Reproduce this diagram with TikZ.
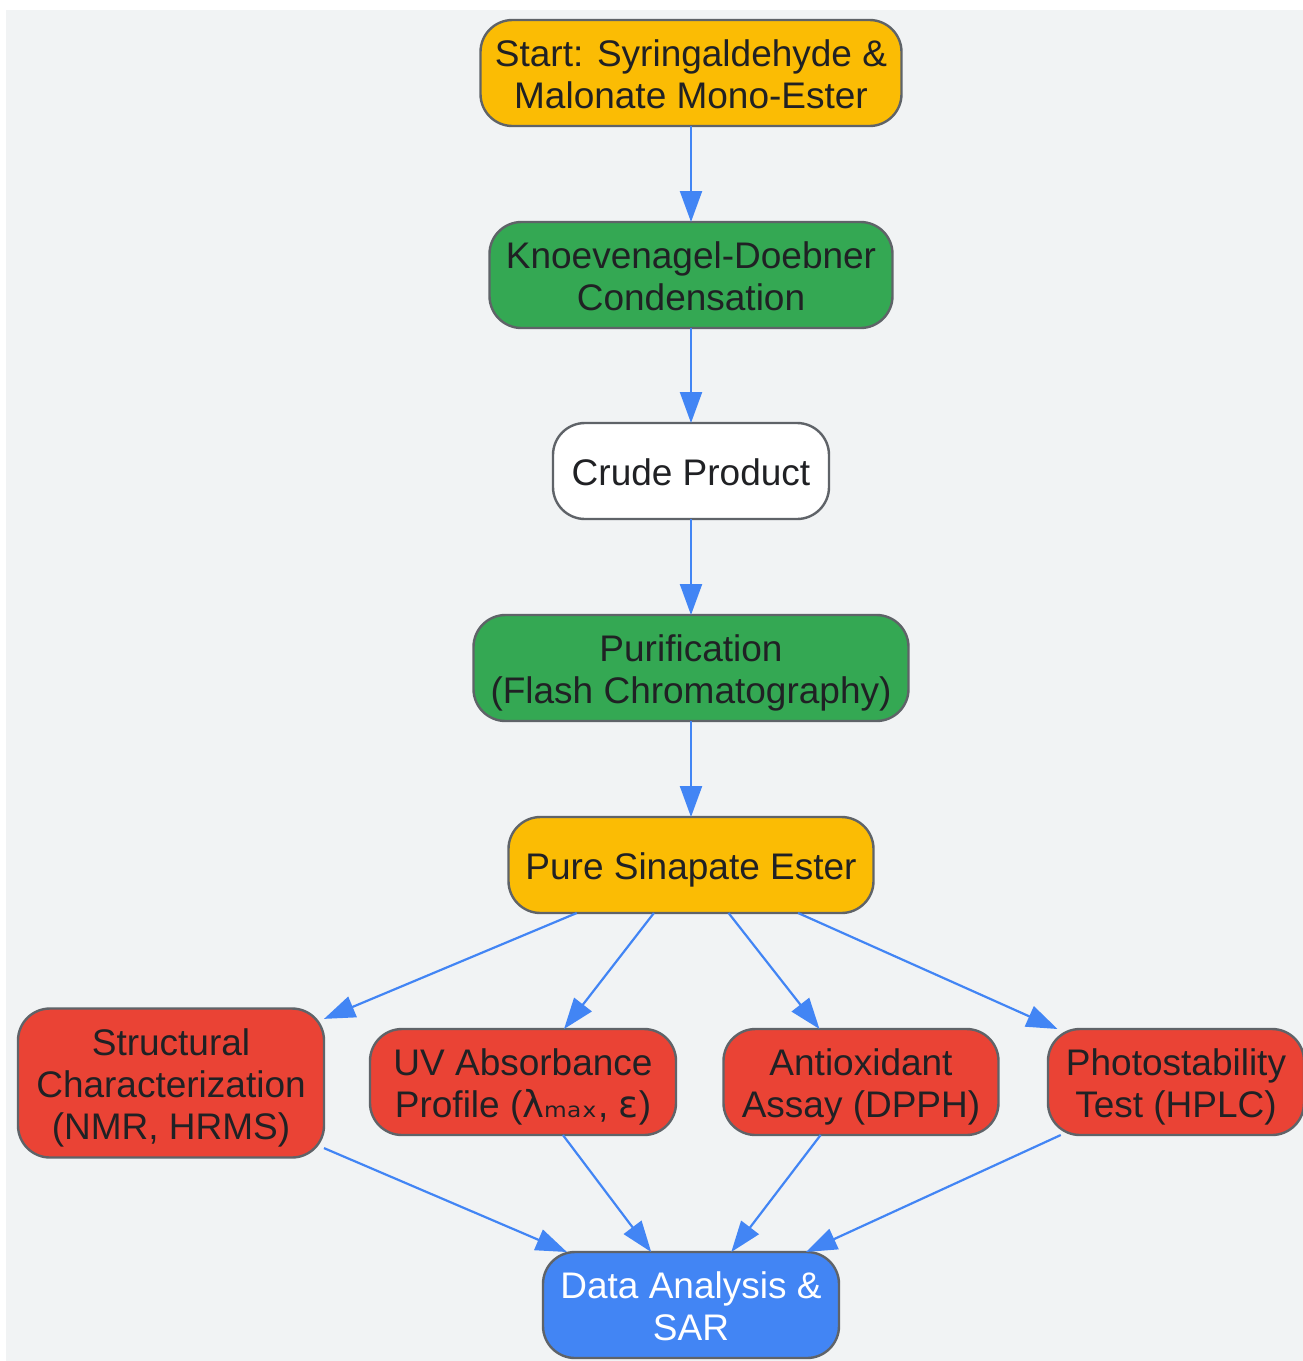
\documentclass[tikz,border=0pt]{standalone}
\usepackage{fontspec}
\setmainfont{Liberation Sans}
\newfontfamily\dejavu{DejaVu Sans}
\usetikzlibrary{arrows.meta}
\definecolor{bgc}{HTML}{F1F3F4}
\definecolor{yel}{HTML}{FBBC04}
\definecolor{grn}{HTML}{34A853}
\definecolor{redc}{HTML}{EA4335}
\definecolor{blu}{HTML}{4285F4}
\definecolor{bord}{HTML}{5F6368}
\definecolor{txt}{HTML}{202124}
\newcommand{\txtlines}[1]{\raisebox{-6pt}[\height][\depth]{\begin{tabular}{@{}c@{}}#1\end{tabular}}}
\tikzset{
  box/.style={draw=bord, line width=2.4pt, rounded corners=32pt, inner sep=0pt, outer sep=0pt,
    align=center, text=txt, font=\fontsize{37}{42}\selectfont},
  conn/.style={draw=blu, line width=2.2pt, -{Triangle[length=31pt,width=22pt]}}
}
\begin{document}
\begin{tikzpicture}[x=1pt,y=-1pt]
\useasboundingbox (0,0) rectangle (1303,1361);
\fill[bgc] (6,10) rectangle (1303,1361);
\node[box, fill=yel, minimum width=421pt, minimum height=106pt] (start) at (691,73) {\txtlines{Start: Syringaldehyde \&\\Malonate Mono-Ester}};
\node[box, fill=grn, minimum width=403pt, minimum height=106pt] (knoev) at (691,275) {\txtlines{Knoevenagel-Doebner\\Condensation}};
\node[box, fill=white, minimum width=276pt, minimum height=96pt] (crude) at (691,471) {\txtlines{Crude Product}};
\node[box, fill=grn, minimum width=435pt, minimum height=106pt] (purif) at (691,668) {\txtlines{Purification\\(Flash Chromatography)}};
\node[box, fill=yel, minimum width=365pt, minimum height=96pt] (pure) at (691,865) {\txtlines{Pure Sinapate Ester}};
\node[box, fill=redc, minimum width=306pt, minimum height=149pt] (struct) at (171,1083) {\txtlines{Structural\\Characterization\\(NMR, HRMS)}};
\node[box, fill=redc, minimum width=306pt, minimum height=106pt] (uv) at (523,1082) {\txtlines{UV Absorbance\\Profile ({\dejavu λₘₐₓ}, {\dejavu ε})}};
\node[box, fill=redc, minimum width=275pt, minimum height=106pt] (anti) at (861,1082) {\txtlines{Antioxidant\\Assay (DPPH)}};
\node[box, fill=redc, minimum width=256pt, minimum height=106pt] (photo) at (1176,1082) {\txtlines{Photostability\\Test (HPLC)}};
\node[box, fill=blu, text=white, minimum width=296pt, minimum height=106pt] (data) at (691,1305) {\txtlines{Data Analysis \&\\SAR}};
\draw[conn] (start) -- (knoev);
\draw[conn] (knoev) -- (crude);
\draw[conn] (crude) -- (purif);
\draw[conn] (purif) -- (pure);
\draw[conn] (pure) -- (struct);
\draw[conn] (pure) -- (uv);
\draw[conn] (pure) -- (anti);
\draw[conn] (pure) -- (photo);
\draw[conn] (struct) -- (data);
\draw[conn] (uv) -- (data);
\draw[conn] (anti) -- (data);
\draw[conn] (photo) -- (data);
\end{tikzpicture}
\end{document}
